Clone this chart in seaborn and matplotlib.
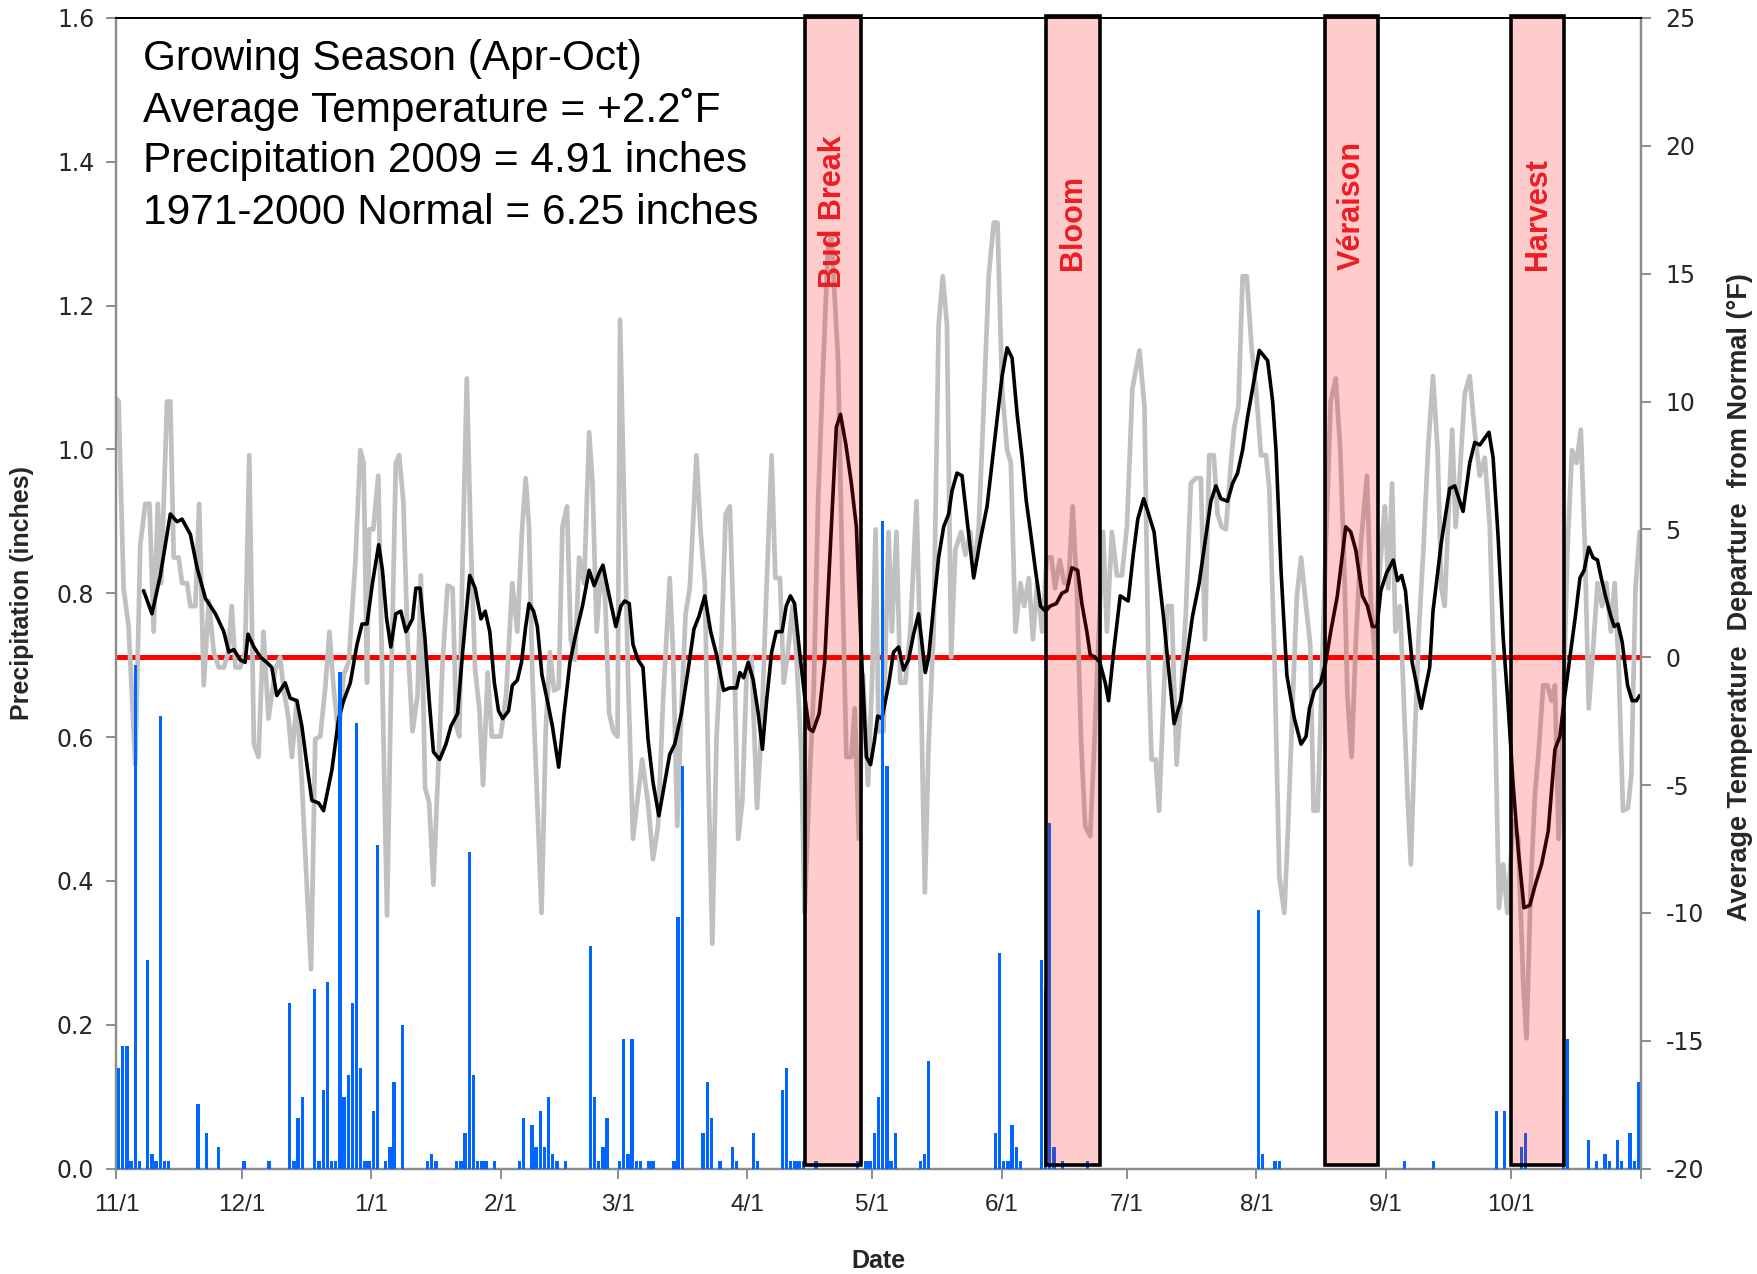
import matplotlib
matplotlib.use("Agg")
import matplotlib.pyplot as plt
import matplotlib.font_manager as fm
from matplotlib.ticker import FormatStrFormatter, FixedLocator
import seaborn as sns
import pandas as pd

# ---------------- data ----------------
month_ticks = [0, 30, 61, 92, 120, 151, 181, 212, 242, 273, 304, 334]
month_labels = ["11/1", "12/1", "1/1", "2/1", "3/1", "4/1", "5/1", "6/1",
                "7/1", "8/1", "9/1", "10/1"]

# daily temperature departure (deg F), days since 11/1/2008
gray_days = [0, 0.5, 1.7, 2.9, 4.5, 5.7, 6.9, 7.9, 8.9, 9.9, 10.7, 12.1, 12.9, 13.7, 14.9,
             15.7, 16.9, 17.7, 18.9, 19.8, 20.9, 22.1, 23.3, 24.5, 25.7, 26.8, 27.6, 28.5,
             29.6, 30.8, 31.8, 32.9, 34.0, 35.2, 36.4, 38.0, 39.2, 40.0, 41.2, 42.0, 43.2,
             44.4, 45.6, 46.6, 47.6, 48.8, 50.0, 51.0, 52.0, 53.2, 54.4, 55.6, 57.2, 58.4,
             59.2, 60.0, 60.5, 61.5, 62.7, 63.7, 64.8, 65.7, 66.9, 67.7, 68.7, 69.7, 70.9,
             72.1, 72.9, 73.9, 74.9, 75.9, 76.9, 78.1, 79.3, 80.5, 81.4, 82.1, 82.9, 83.9,
             84.9, 85.9, 86.9, 87.8, 88.9, 89.9, 91.0, 92.0, 93.3, 94.8, 96.0, 97.1, 98.0,
             98.8, 99.6, 100.6, 101.8, 102.8, 103.8, 104.8, 105.9, 106.8, 107.9, 108.8,
             109.8, 110.8, 112.0, 113.2, 114.0, 115.0, 116.0, 117.0, 118.0, 119.0, 120.0,
             120.6, 121.5, 122.5, 123.7, 124.9, 125.9, 127.3, 128.5, 129.7, 130.9, 132.5,
             133.3, 134.3, 135.3, 136.3, 137.3, 138.9, 139.9, 140.9, 141.7, 142.7, 143.7,
             144.9, 145.9, 146.9, 147.8, 148.9, 149.9, 150.9, 152.1, 153.4, 154.5, 155.8,
             156.9, 157.8, 158.9, 159.8, 160.8, 161.9, 162.8, 164.0, 164.8, 165.9, 167.0,
             168.0, 169.2, 170.4, 171.2, 172.8, 173.9, 174.8, 176.0, 176.8, 177.8, 178.8,
             180.0, 181.0, 181.8, 182.5, 183.7, 184.9, 185.7, 186.8, 187.7, 188.9, 190.1,
             191.6, 192.5, 193.6, 194.5, 195.7, 196.9, 197.9, 198.9, 199.9, 200.9, 202.3,
             203.3, 204.5, 205.3, 206.5, 207.7, 208.9, 210.1, 211.0, 212.1, 213.3, 214.2,
             215.3, 216.5, 217.4, 218.5, 219.5, 220.5, 221.7, 222.8, 223.9, 224.8, 225.9,
             227.0, 228.0, 229.0, 230.0, 231.0, 232.0, 233.2, 234.2, 235.2, 236.3, 237.2,
             238.4, 239.6, 240.8, 242.0, 243.3, 245.0, 246.2, 247.1, 247.9, 248.9, 249.7,
             250.8, 251.7, 252.7, 253.9, 254.9, 256.1, 257.3, 258.5, 259.7, 260.7, 261.7,
             262.8, 263.7, 264.7, 265.7, 266.9, 267.7, 268.7, 269.7, 270.7, 271.9, 272.9,
             274.1, 275.3, 276.1, 277.3, 278.5, 279.7, 280.6, 281.7, 282.7, 283.7, 284.9,
             285.9, 286.7, 287.7, 288.4, 289.6, 290.8, 292.0, 293.1, 294.1, 294.8, 295.8,
             296.8, 298.0, 299.5, 300.4, 301.4, 302.4, 303.3, 303.8, 304.6, 305.5, 306.3,
             307.4, 308.2, 309.2, 310.0, 311.0, 311.9, 313.0, 314.1, 315.3, 316.4, 317.3,
             318.1, 319.0, 319.9, 320.7, 321.7, 322.9, 324.1, 325.3, 326.5, 327.7, 328.9,
             330.1, 331.1, 332.1, 333.1, 334.5, 335.7, 336.9, 337.7, 338.7, 339.7, 340.6,
             341.7, 342.7, 343.7, 344.5, 345.4, 346.5, 347.5, 348.6, 349.7, 350.7, 351.7,
             352.6, 353.6, 354.7, 355.8, 356.8, 357.9, 358.8, 359.8, 360.8, 362.0, 362.8,
             363.8, 364.8]
gray_vals = [10.1, 10.0, 2.7, 1.2, -4.2, 4.4, 6.0, 6.0, 1.0, 6.0, 2.9, 10.0, 10.0, 3.9, 3.9,
             2.9, 2.9, 2.0, 2.0, 6.0, -1.1, 2.2, 0.2, -0.4, -0.4, 0.2, 2.0, -0.4,
             -0.4, 0.2, 7.9, -3.4, -3.9, 1.0, -2.4, -0.5, 0.0, -1.2, -2.4, -3.9, -1.7,
             -4.9, -9.0, -12.2, -3.2, -3.1, -1.2, 1.0, -1.2, -3.1, -0.7, -0.2, 3.7, 8.1,
             7.6, -1.0, 5.0, 5.0, 7.1, -1.2, -10.1, -1.7, 7.6, 7.9, 6.1, 0.7, -2.9,
             -1.5, 3.2, -5.1, -5.7, -8.9, -4.9, -0.2, 2.8, 2.7, -2.7, -3.1, 3.9, 10.9,
             4.2, -0.5, -2.0, -5.0, -0.6, -3.1, -3.1, -3.1, -1.5, 2.9, 1.0, 4.9, 7.0,
             5.1, -0.7, -4.9, -10.0, -2.9, 0.2, -1.3, -1.2, 5.1, 5.9, 0.7,
             -0.1, 3.9, 2.9, 8.8, 6.8, 1.0, 3.4, 2.4, -2.2, -2.9, -3.1,
             13.2, 6.6, -0.7, -7.1, -5.4, -4.0, -5.7, -7.9, -6.6, -1.7, 3.1,
             0.2, -6.6, -2.0, 1.7, 2.7, 7.9, 4.9, 2.9, -4.2, -11.2, -3.2,
             0.7, 5.6, 5.9, 1.2, -7.1, -5.6, -0.7, 0.0, -5.9, -2.7, 3.2,
             7.9, 3.1, 3.1, -1.0, 0.2, 2.0, 0.2, -3.7, -10.0, -5.1, -1.2,
             5.9, 11.2, 16.0, 16.5, 11.7, 2.7, -3.9, -3.9, -2.0, -7.1, -0.7,
             -5.0, -0.7, 5.0, -2.9, -2.9, 4.9, 1.0, 4.9, -1.0, -1.0, 1.0,
             6.1, 0.2, -9.2, -3.4, 1.0, 13.0, 14.9, 13.0, 0.0, 4.2, 4.9,
             4.0, 4.9, 3.2, 5.1, 9.8, 14.9, 17.0, 17.0, 10.5, 8.1, 7.6,
             1.0, 2.9, 2.0, 3.1, 0.7, 2.9, 1.0, 3.9, 3.9, 2.7, 3.8,
             2.9, 2.9, 5.9, 2.7, -3.2, -6.6, -7.0, -3.4, 0.7, 4.9, 1.0,
             4.9, 3.2, 3.2, 5.1, 10.5, 12.0, 9.8, 0.2, -4.0, -4.0, -6.0,
             -1.5, 2.0, 2.0, -4.2, -1.7, 1.7, 6.8, 7.0, 7.0, 0.7, 7.9,
             7.9, 5.6, 5.1, 5.0, 7.6, 9.0, 9.8, 14.9, 14.9, 12.0, 10.5,
             7.9, 7.9, 6.6, 0.2, -8.6, -10.0, -6.6, -1.7, 2.4, 3.9, 2.0,
             0.5, -6.0, -6.0, -2.2, 4.2, 10.0, 10.9, 8.1, 3.2, -1.5, -3.9,
             0.5, 4.4, 7.1, 2.2, 0.0, 3.0, 5.0, 5.9, 2.7, 6.8, 1.0,
             2.0, -1.2, -5.4, -8.1, -2.9, 1.0, 4.2, 8.1, 11.0, 8.1, 2.7,
             2.0, 5.6, 8.9, 5.1, 7.1, 10.3, 11.0, 8.8, 7.1, 7.8, 5.1,
             -1.7, -9.8, -8.1, -10.0, -6.4, -7.1, -12.7, -14.9, -9.0, -5.4, -3.7,
             -1.1, -1.1, -1.7, -1.1, -7.1, -2.2, 4.2, 8.1, 7.6, 8.9, 4.2,
             -2.0, 0.2, 2.9, 2.0, 2.9, 1.0, 2.9, -0.5, -6.0, -5.9, -4.6,
             2.7, 4.9]

# 7-day moving average of the departure
black_days = [6.5, 8.5, 10.5, 12.9, 14.5, 15.7, 17.7, 19.3, 21.3, 23.7, 25.7, 26.9, 28.1, 29.6,
              30.8, 31.5, 32.9, 34.5, 36.0, 37.2, 38.4, 40.4, 41.6, 43.2, 44.4, 45.6, 46.8,
              48.4, 49.6, 51.6, 53.2, 54.4, 56.0, 57.6, 58.8, 60.0, 61.3, 62.8, 63.7, 64.7,
              65.7, 66.9, 68.1, 69.3, 70.9, 71.7, 72.7, 73.9, 74.9, 75.9, 77.4, 78.9, 80.1,
              81.7, 82.9, 84.6, 85.9, 87.3, 88.3, 89.4, 90.5, 91.5, 92.5, 93.9, 94.8, 96.0,
              97.0, 98.0, 98.8, 99.9, 100.8, 101.9, 103.2, 104.4, 105.9, 107.2, 108.6, 110.0,
              111.6, 113.2, 114.4, 115.6, 116.5, 118.0, 119.6, 120.8, 121.7, 122.8, 123.7,
              124.9, 126.1, 127.3, 128.5, 129.9, 131.3, 132.5, 133.7, 135.3, 136.9, 138.3,
              139.5, 140.9, 142.3, 143.7, 145.4, 146.9, 148.5, 149.3, 150.2, 151.3, 152.5,
              153.7, 154.7, 155.7, 156.9, 158.0, 159.4, 160.4, 161.4, 162.4, 163.6, 164.8,
              165.9, 166.8, 168.3, 169.6, 171.2, 172.4, 173.4, 174.7, 176.0, 177.2, 178.4,
              179.6, 180.6, 181.5, 182.3, 183.3, 184.9, 186.1, 187.3, 188.5, 189.7, 190.9,
              192.1, 193.7, 194.5, 195.7, 196.9, 198.1, 199.3, 200.1, 201.3, 202.5, 203.7,
              205.3, 206.9, 208.5, 209.7, 210.9, 212.1, 213.3, 214.5, 215.7, 216.9, 217.9,
              218.9, 220.1, 221.3, 222.5, 223.6, 225.1, 226.4, 227.6, 228.8, 230.2, 231.2,
              232.4, 233.2, 234.4, 235.5, 236.8, 237.6, 238.8, 240.4, 242.3, 243.5, 244.6,
              246.0, 247.0, 248.5, 249.7, 250.8, 251.7, 253.3, 254.9, 256.5, 257.7, 259.3,
              260.7, 262.1, 263.3, 264.5, 266.1, 267.3, 268.5, 269.7, 270.9, 272.5, 273.7,
              275.7, 276.9, 277.7, 278.9, 280.3, 282.1, 283.7, 284.9, 285.7, 286.9, 288.4,
              289.6, 290.8, 292.4, 294.4, 295.6, 296.8, 298.4, 299.6, 300.8, 301.9, 302.8,
              304.2, 305.8, 306.8, 307.8, 308.7, 310.3, 312.5, 314.5, 315.3, 317.3, 319.3,
              320.5, 322.5, 324.1, 325.3, 326.5, 328.7, 329.7, 330.9, 332.1, 333.3, 334.5,
              335.7, 337.1, 338.5, 339.8, 341.3, 342.9, 344.5, 345.7, 346.7, 348.1, 349.4,
              350.5, 351.5, 352.6, 353.6, 354.7, 355.6, 356.6, 357.9, 358.7, 359.6, 360.6,
              361.9, 363.0, 364.0, 364.8]
black_vals = [2.6, 1.7, 3.2, 5.6, 5.3, 5.4, 4.8, 3.5, 2.3, 1.7, 1.0, 0.2, 0.3, -0.1,
              -0.2, 0.9, 0.4, 0.0, -0.2, -0.4, -1.5, -1.0, -1.6, -1.7, -2.7, -4.2, -5.6,
              -5.7, -6.0, -4.4, -2.4, -1.7, -1.0, 0.5, 1.3, 1.3, 2.9, 4.4, 3.4, 1.5,
              0.4, 1.7, 1.8, 1.0, 1.5, 2.7, 2.7, 0.7, -1.7, -3.7, -4.0, -3.4, -2.7,
              -2.2, 0.2, 3.2, 2.7, 1.5, 1.8, 1.0, -1.0, -2.1, -2.4, -2.1, -1.1, -0.9,
              -0.2, 1.2, 2.1, 1.8, 1.2, -0.7, -1.7, -2.7, -4.3, -2.2, -0.2, 0.9,
              2.0, 3.4, 2.8, 3.3, 3.6, 2.4, 1.2, 2.0, 2.2, 2.1, 0.5,
              -0.1, -0.4, -3.2, -4.9, -6.2, -4.9, -3.8, -3.4, -2.2, -0.5, 1.1,
              1.6, 2.4, 1.0, 0.1, -1.3, -1.2, -1.2, -0.6, -0.8, -0.2, -0.9,
              -2.2, -3.6, -1.7, 0.2, 1.0, 1.0, 2.0, 2.4, 2.1, 0.2, -1.5,
              -2.8, -2.9, -2.2, -0.2, 5.1, 9.0, 9.5, 8.3, 6.8, 5.1, 0.2,
              -3.9, -4.2, -3.3, -2.3, -2.4, -1.1, 0.2, 0.4, -0.5, -0.1, 0.9,
              1.7, -0.6, 0.0, 2.0, 3.9, 5.1, 5.6, 6.5, 7.2, 7.1, 5.4,
              3.1, 4.6, 5.9, 7.6, 9.3, 11.0, 12.1, 11.7, 9.5, 7.8, 6.1,
              4.9, 3.4, 2.0, 1.8, 2.0, 2.1, 2.5, 2.6, 3.5, 3.4, 2.1,
              1.0, 0.1, 0.0, -0.2, -1.0, -1.7, 0.2, 2.4, 2.2, 4.0, 5.4,
              6.2, 5.7, 4.9, 3.1, 1.5, 0.0, -2.6, -1.7, 0.2, 1.6, 2.9,
              4.5, 6.1, 6.7, 6.2, 6.1, 6.8, 7.2, 8.1, 9.4, 10.9, 12.0,
              11.6, 10.0, 8.1, 3.4, -0.7, -2.4, -3.4, -3.1, -2.0, -1.3, -1.0,
              -0.2, 1.0, 2.4, 5.1, 4.9, 4.2, 2.4, 2.0, 1.2, 1.2, 2.6,
              3.3, 3.8, 3.0, 3.2, 2.6, -0.2, -2.0, -0.4, 1.8, 4.5, 6.6,
              6.7, 5.7, 7.6, 8.4, 8.3, 8.8, 7.8, 4.7, 0.8, -1.9, -5.0,
              -7.5, -9.8, -9.7, -8.9, -8.1, -6.8, -3.6, -3.1, -1.7, 0.0, 1.6,
              3.1, 3.4, 4.3, 3.9, 3.8, 3.1, 2.4, 1.6, 1.2, 1.3, 0.6,
              -1.1, -1.7, -1.7, -1.5]

# daily precipitation (inches)
precip_days = [0, 1, 2, 3, 4, 5, 7, 8, 9, 10, 11, 12, 19, 21, 24, 30, 36, 41, 42, 43, 44, 47,
               48, 49, 50, 51, 52, 53, 54, 55, 56, 57, 58, 59, 60, 61, 62, 64, 65, 66, 68, 74,
               75, 76, 81, 82, 83, 84, 85, 86, 87, 88, 90, 96, 97, 99, 100, 101, 102, 103,
               104, 105, 107, 113, 114, 115, 116, 117, 120, 121, 122, 123, 124, 125, 127,
               128, 133, 134, 135, 140, 141, 142, 144, 147, 148, 152, 153, 159, 160, 161,
               162, 163, 164, 167, 177, 179, 180, 181, 182, 183, 184, 185, 186, 192, 193,
               194, 210, 211, 212, 213, 214, 215, 216, 221, 222, 223, 224, 226, 232, 273,
               274, 277, 278, 308, 315, 330, 332, 336, 337, 346, 347, 352, 354, 356, 357,
               359, 360, 362, 363, 364]
precip_vals = [0.14, 0.17, 0.17, 0.01, 0.70, 0.01, 0.29, 0.02, 0.01, 0.63, 0.01, 0.01, 0.09,
               0.05, 0.03, 0.01, 0.01, 0.23, 0.01, 0.07, 0.10, 0.25, 0.01, 0.11, 0.26, 0.01,
               0.01, 0.69, 0.10, 0.13, 0.23, 0.62, 0.14, 0.01, 0.01, 0.08, 0.45, 0.01, 0.03,
               0.12, 0.20, 0.01, 0.02, 0.01, 0.01, 0.01, 0.05, 0.44, 0.13, 0.01, 0.01, 0.01,
               0.01, 0.01, 0.07, 0.06, 0.03, 0.08, 0.03, 0.10, 0.02, 0.01, 0.01, 0.31, 0.10,
               0.01, 0.03, 0.07, 0.01, 0.18, 0.02, 0.18, 0.01, 0.01, 0.01, 0.01, 0.01, 0.35,
               0.56, 0.05, 0.12, 0.07, 0.01, 0.03, 0.01, 0.05, 0.01, 0.11, 0.14, 0.01, 0.01,
               0.01, 0.01, 0.01, 0.01, 0.01, 0.01, 0.05, 0.10, 0.90, 0.56, 0.01, 0.05, 0.01,
               0.02, 0.15, 0.05, 0.30, 0.01, 0.01, 0.06, 0.03, 0.01, 0.29, 0.25, 0.48, 0.03,
               0.01, 0.01, 0.36, 0.02, 0.01, 0.01, 0.01, 0.01, 0.08, 0.08, 0.03, 0.05, 0.10,
               0.18, 0.04, 0.01, 0.02, 0.01, 0.04, 0.01, 0.05, 0.01, 0.12]

phase_names = ["Bud Break", "Bloom", "Véraison", "Harvest"]
phase_start = [165.0, 222.7, 289.5, 334.0]
phase_end = [178.4, 235.6, 302.2, 346.7]

info_lines = ["Growing Season (Apr-Oct)",
              "Average Temperature = +2.2\u02daF",
              "Precipitation 2009 = 4.91 inches",
              "1971-2000 Normal = 6.25 inches"]

# ---------------- style ----------------
sns.set_theme(style="white")
names = {f.name for f in fm.fontManager.ttflist}
base = "Liberation Sans" if "Liberation Sans" in names else "DejaVu Sans"
plt.rcParams["font.family"] = [base, "DejaVu Sans"]
plt.rcParams["axes.unicode_minus"] = False

AX_GRAY = "#8c8c8c"

fig = plt.figure(figsize=(17.57, 12.74), dpi=100, facecolor="white")
ax = fig.add_axes([0.0663, 0.0827, 0.8674, 0.9032])
ax2 = ax.twinx()
ax.set_zorder(2)
ax2.set_zorder(1)
ax.patch.set_visible(False)

# temperature lines (right axis)
temp_df = pd.DataFrame({"day": gray_days, "dep": gray_vals})
avg_df = pd.DataFrame({"day": black_days, "avg": black_vals})
ax2.axhline(0, color="#ff0000", lw=3.6, zorder=1)
sns.lineplot(data=temp_df, x="day", y="dep", ax=ax2, color="#c0c0c0", linewidth=3.4,
             solid_joinstyle="round", solid_capstyle="round", zorder=2)
sns.lineplot(data=avg_df, x="day", y="avg", ax=ax2, color="black", linewidth=2.6,
             solid_joinstyle="round", zorder=3)

# precipitation bars (left axis)
pr_df = pd.DataFrame({"x": [d + 0.5 for d in precip_days], "p": precip_vals})
sns.barplot(data=pr_df, x="x", y="p", ax=ax, native_scale=True, color="#0066ff",
            saturation=1, width=0.8, errorbar=None, linewidth=0, zorder=3)

# phase boxes
for name, s, e in zip(phase_names, phase_start, phase_end):
    ax.axvspan(s, e, ymin=0.003, ymax=1.002, facecolor=(1, 0, 0, 0.2),
               edgecolor="black", linewidth=2.6, zorder=5, clip_on=False)
    yb = 0.765 if name == "Bud Break" else 0.781
    ax.text((s + e) / 2, yb, name, transform=ax.get_xaxis_transform(), rotation=90,
            ha="center", va="bottom", color="#ee1c24", fontsize=22, fontweight="bold",
            zorder=6)

# info text
for i, (line, yb) in enumerate(zip(info_lines, [0.9545, 0.910, 0.866, 0.821])):
    ax.text(0.0176, yb, line, transform=ax.transAxes, ha="left", va="baseline",
            fontsize=30.5, color="black", zorder=6)

# axes
ax.set_xlim(0, 365)
ax.set_ylim(0, 1.6)
ax2.set_ylim(-20, 25)
ax.set_yticks([0, 0.2, 0.4, 0.6, 0.8, 1.0, 1.2, 1.4, 1.6])
ax.yaxis.set_major_formatter(FormatStrFormatter("%.1f"))
ax2.set_yticks(list(range(-20, 26, 5)))
ax.set_xticks(month_ticks)
ax.set_xticklabels(month_labels)
ax.xaxis.set_minor_locator(FixedLocator([365]))

for a in (ax, ax2):
    for side in ("left", "right", "bottom"):
        a.spines[side].set_color(AX_GRAY)
        a.spines[side].set_linewidth(1.6)
    a.spines["top"].set_color("black")
    a.spines["top"].set_linewidth(1.4)

ax.tick_params(axis="x", which="both", direction="out", length=7, width=1.4,
               color=AX_GRAY, pad=11, bottom=True)
for lab in ax.get_xticklabels():
    lab.set_fontsize(17.5)
ax.tick_params(axis="y", direction="out", length=7, width=1.4, color=AX_GRAY, pad=9,
               left=True)
ax2.tick_params(axis="y", direction="out", length=7, width=1.4, color=AX_GRAY, pad=11,
                right=True)
for lab in ax.get_yticklabels() + ax2.get_yticklabels():
    lab.set_fontfamily(["DejaVu Sans"])
    lab.set_fontsize(17)

ax.set_xlabel("Date", fontsize=18, fontweight="bold", va="center")
ax.xaxis.set_label_coords(0.5, -0.080)
ax.set_ylabel("Precipitation (inches)", fontsize=18, fontweight="bold", va="center")
ax.yaxis.set_label_coords(-0.0618, 0.5)
ax2.set_ylabel("Average Temperature  Departure  from Normal (\u00b0F)", fontsize=19.5,
               fontweight="bold", rotation=90, va="center")
ax2.yaxis.set_label_coords(1.0654, 0.497)

fig.savefig("out.png", dpi=100, facecolor="white")
